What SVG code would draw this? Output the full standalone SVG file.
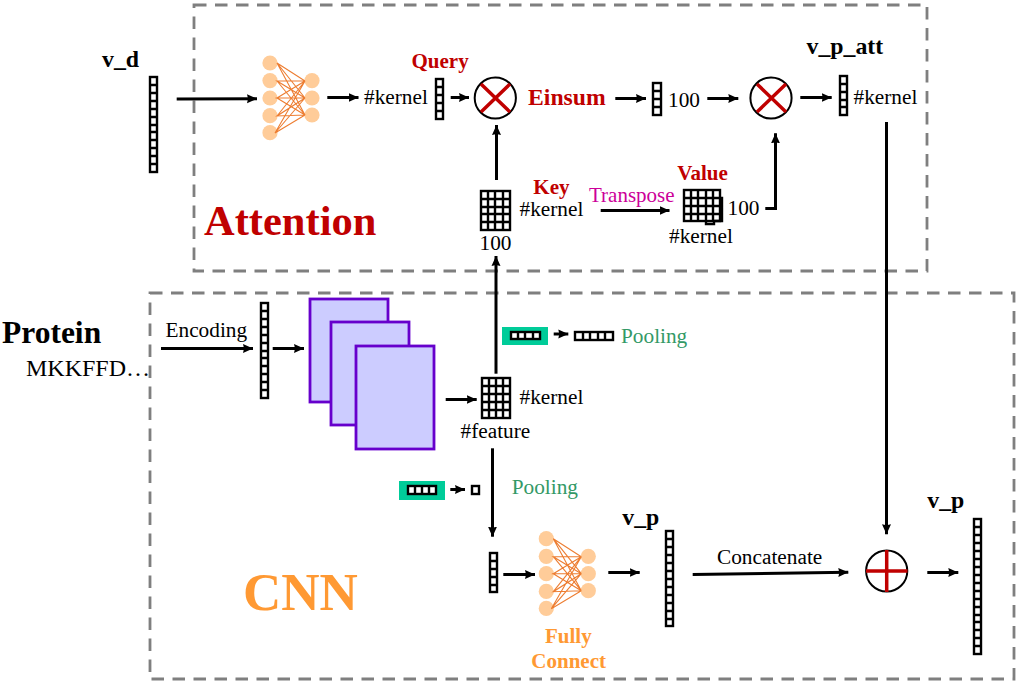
<svg xmlns="http://www.w3.org/2000/svg" xmlns:xlink="http://www.w3.org/1999/xlink" width="1021" height="685" viewBox="0 0 1021 685">
<style>
text{font-family:"Liberation Serif","Times New Roman",serif;font-size:21.3px;fill:#000}
.b{font-weight:bold;font-size:21px}
.r{fill:#C00000}
.pool{fill:#339966}
.o{fill:#FF9933}
.box{fill:none;stroke:#7F7F7F;stroke-width:2.8;stroke-dasharray:12.5 8.5}
.cell{fill:#fff;stroke:#000;stroke-width:2.4}
.thin{fill:none;stroke:#000;stroke-width:2.4}
.a{fill:none;stroke:#000;stroke-width:3;marker-end:url(#ah)}
.sheet{fill:#CCCCFF;stroke:#6600CC;stroke-width:2.8}
.green{fill:#00CC99}
.op{fill:#fff;stroke:#000;stroke-width:2}
.opx{fill:none;stroke:#C00000;stroke-width:3.5}
.nnl{stroke:#ED7D31;stroke-width:1.1;fill:none}
.nnc{fill:#FFCC99}
</style>
<defs>
<marker id="ah" markerUnits="userSpaceOnUse" markerWidth="11" markerHeight="11" refX="10" refY="5.500" orient="auto"><path d="M0 1L10 5.500L0 10L1 5.500Z" fill="#000"/></marker>
<g id="nn">
<circle class="nnc" cx="0" cy="0" r="7.6"/><circle class="nnc" cx="0" cy="17.6" r="7.6"/><circle class="nnc" cx="0" cy="35" r="7.6"/><circle class="nnc" cx="0" cy="52.7" r="7.6"/><circle class="nnc" cx="0" cy="69.7" r="7.6"/>
<circle class="nnc" cx="42" cy="17.6" r="7.6"/><circle class="nnc" cx="42" cy="35" r="7.6"/><circle class="nnc" cx="42" cy="52" r="7.6"/>
<path class="nnl" d="M7 0L35 18L7 0L35 35L7 0L35 52M7 18L35 18L7 18L35 35L7 18L35 52M7 35L35 18L7 35L35 35L7 35L35 52M7 53L35 18L7 53L35 35L7 53L35 52M5 70L35 18L5 70L35 35L5 70L35 52"/>
</g>
</defs>
<rect class="box" x="194" y="5" width="733" height="266"/>
<rect class="box" x="150" y="293" width="864" height="386"/>

<g id="v_d"><text class="b" x="102" y="67" style="font-size:23.8px">v_d</text>
<rect class="cell" x="150" y="77" width="7" height="95"/><path class="thin" d="M150 85h7M150 93h7M150 101h7M150 109h7M150 117h7M150 125h7M150 132h7M150 140h7M150 148h7M150 156h7M150 164h7"/></g>
<g id="fc_attention"><use xlink:href="#nn" href="#nn" x="270" y="63"/></g>
<g id="query"><text x="364" y="104">#kernel</text><text class="b r" x="411.500" y="68">Query</text>
<rect class="cell" x="436" y="79" width="7" height="40"/><path class="thin" d="M436 87h7M436 95h7M436 103h7M436 111h7"/></g>
<g id="op_einsum"><circle class="op" cx="495.300" cy="98" r="20.600"/><path class="opx" d="M481 84L510 112M510 84L481 112"/><text class="b r" x="528" y="105" style="font-size:23.700px">Einsum</text></g>
<g id="vec_100"><rect class="cell" x="653" y="83" width="8" height="32"/><path class="thin" d="M653 91h8M653 99h8M653 107h8"/><text x="668" y="106.700">100</text></g>
<g id="op_value"><circle class="op" cx="771" cy="98" r="20.600"/><path class="opx" d="M757 84L786 112M786 84L757 112"/></g>
<g id="v_p_att"><text class="b" x="806.500" y="54" style="font-size:23.800px">v_p_att</text>
<rect class="cell" x="840" y="76" width="7" height="39"/><path class="thin" d="M840 84h7M840 92h7M840 100h7M840 107h7"/><text x="853.500" y="104">#kernel</text></g>
<g id="key"><text class="b r" x="533.300" y="194">Key</text><text x="519.500" y="215.700">#kernel</text><text x="479.500" y="250">100</text>
<rect class="cell" x="481" y="191" width="29" height="39"/><path class="thin" d="M488 191v39M495 191v39M503 191v39M481 199h29M481 207h29M481 214h29M481 222h29"/></g>
<g id="value"><text class="b r" x="677.300" y="180">Value</text><text x="727.500" y="215">100</text><text x="669" y="242.700">#kernel</text>
<rect class="cell" x="684" y="190" width="36" height="31"/><path class="thin" d="M691 190v31M698 190v31M706 190v31M713 190v31M684 198h36M684 206h36M684 214h36M720 198h2V221H713M706 221v3h8v-3"/></g>
<g id="transpose"><text x="589" y="201.700" style="fill:#CC0099;font-size:21px">Transpose</text></g>
<text class="b" x="204" y="235" style="font-size:42.500px;fill:#C00000">Attention</text>

<g id="protein"><text class="b" x="2" y="343" style="font-size:31.500px">Protein</text><text x="26" y="376" style="font-size:24px">MKKFFD…</text></g>
<g id="encoding"><text x="165.500" y="337">Encoding</text>
<rect class="cell" x="261" y="303" width="7" height="95"/><path class="thin" d="M261 311h7M261 319h7M261 327h7M261 335h7M261 343h7M261 351h7M261 358h7M261 366h7M261 374h7M261 382h7M261 390h7"/></g>
<g id="cnn_sheets"><rect class="sheet" x="310" y="299" width="78" height="103"/><rect class="sheet" x="331" y="322" width="78" height="103"/><rect class="sheet" x="356" y="346" width="78" height="103"/></g>
<g id="feature"><text x="519.500" y="404">#kernel</text><text x="460.500" y="437.700">#feature</text>
<rect class="cell" x="482" y="378" width="28" height="40"/><path class="thin" d="M489 378v40M496 378v40M503 378v40M482 386h28M482 394h28M482 402h28M482 410h28"/></g>
<g id="pool_top"><rect class="green" x="502" y="327" width="46" height="18"/><rect class="cell" x="511" y="332" width="29" height="7"/><path class="thin" d="M518 332v7M525 332v7M533 332v7"/>
<rect class="cell" x="575" y="332" width="38" height="8"/><path class="thin" d="M583 332v8M590 332v8M598 332v8M605 332v8"/><text class="pool" x="621" y="342.700">Pooling</text></g>
<g id="pool_bottom"><rect class="green" x="399" y="481" width="46" height="19"/><rect class="cell" x="408" y="486" width="28" height="8"/><path class="thin" d="M415 486v8M422 486v8M429 486v8"/>
<rect class="cell" x="472" y="486" width="7" height="8"/><text class="pool" x="511.700" y="494">Pooling</text></g>
<g id="pooled_vec"><rect class="cell" x="490" y="553" width="7" height="39"/><path class="thin" d="M490 561h7M490 569h7M490 577h7M490 585h7"/></g>
<g id="fc_cnn"><use xlink:href="#nn" href="#nn" x="546.300" y="538.700"/><text class="b o" x="545" y="642.700">Fully</text><text class="b o" x="531.300" y="667.700">Connect</text></g>
<g id="v_p"><text class="b" x="622.300" y="525" style="font-size:23.800px">v_p</text>
<rect class="cell" x="666" y="531" width="7" height="95"/><path class="thin" d="M666 539h7M666 547h7M666 555h7M666 563h7M666 571h7M666 579h7M666 587h7M666 595h7M666 603h7M666 611h7M666 619h7"/></g>
<g id="concat_label"><text x="717" y="563.500">Concatenate</text></g>
<g id="op_concat"><circle class="op" cx="886.700" cy="571" r="20.600"/><path class="opx" d="M886.700 550V592M866 571H907.500"/></g>
<g id="v_p_out"><text class="b" x="927.300" y="508.300" style="font-size:23.800px">v_p</text>
<rect class="cell" x="974" y="519" width="7" height="135"/><path class="thin" d="M974 527h7M974 535h7M974 543h7M974 551h7M974 559h7M974 567h7M974 575h7M974 583h7M974 591h7M974 599h7M974 607h7M974 615h7M974 622h7M974 630h7M974 638h7M974 646h7"/></g>
<g id="cnn_label"><text class="b o" x="243" y="610" style="font-size:53px">CNN</text></g>

<g id="connectors">
<path class="a" d="M176.700 99L257 98.700"/>
<path class="a" d="M327.300 97.500H358.500"/>
<path class="a" d="M450.700 97.500H469"/>
<path class="a" d="M496.500 180V125"/>
<path class="a" d="M615.300 98.500H646"/>
<path class="a" d="M707.300 98.500H738.300"/>
<path class="a" d="M800.300 97.500H831.700"/>
<path class="a" d="M886.500 122V534.300"/>
<path class="a" d="M600.700 210.500H669.500"/>
<path class="a" d="M765.300 208.500H775.500V133.300"/>
<path class="a" d="M496 373.700V256"/>
<path class="a" d="M161 348.500H253"/>
<path class="a" d="M272.700 348.500H304"/>
<path class="a" d="M445.700 399.500H476.700"/>
<path class="a" d="M492.500 448.300V536.700"/>
<path class="a" d="M503.300 574.500H535"/>
<path class="a" d="M608.300 572.500H639.700"/>
<path class="a" d="M692.700 574.500L848.300 572.300"/>
<path class="a" d="M927.300 572.500H958.300"/>
<path class="a" d="M553.700 334H568.300"/>
<path class="a" d="M450.300 489.500H465"/>
</g>
</svg>
